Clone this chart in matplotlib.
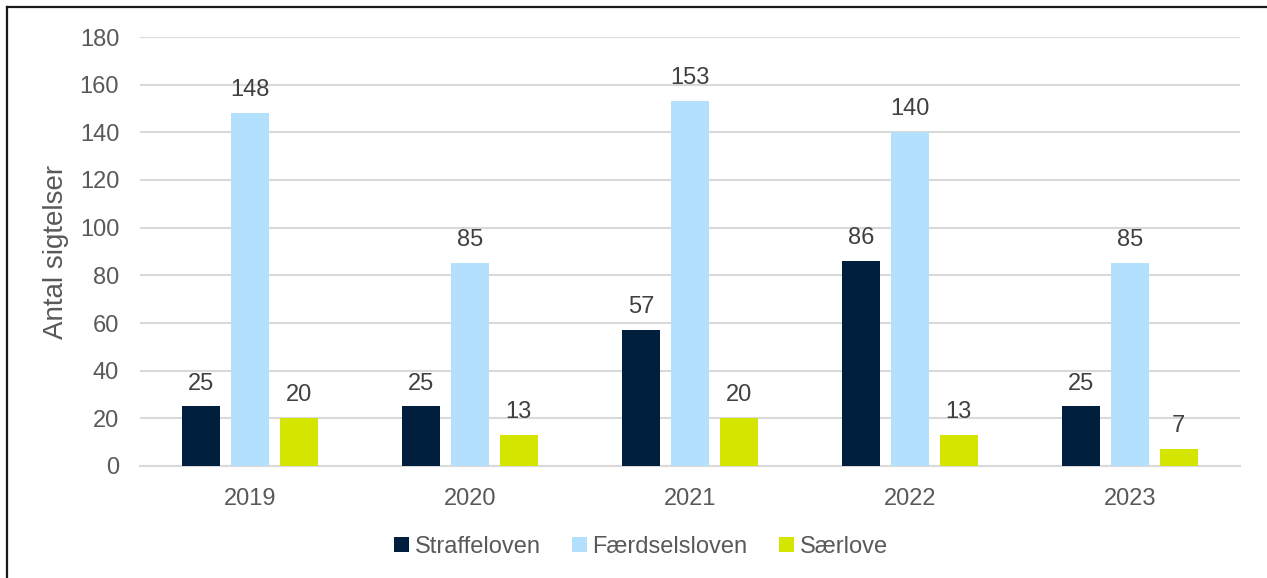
import matplotlib.pyplot as plt
from matplotlib.lines import Line2D
import numpy as np

plt.rcParams['font.family'] = ['Liberation Sans', 'DejaVu Sans']

years = ["2019", "2020", "2021", "2022", "2023"]
series_names = ["Straffeloven", "Færdselsloven", "Særlove"]
straffeloven = [25, 25, 57, 86, 25]
faerdselsloven = [148, 85, 153, 140, 85]
saerlove = [20, 13, 20, 13, 7]
colors = ["#001F3F", "#B3E0FC", "#D4E600"]

TEXT = "#595959"
GRID = "#D9D9D9"

fig = plt.figure(figsize=(12.67, 5.78), dpi=100)
ax = fig.add_axes([140 / 1267, 1 - 466 / 578, 1100 / 1267, 429 / 578])

x = np.arange(len(years))
width = 0.173
step = 0.222
for i, (name, vals) in enumerate(zip(series_names, [straffeloven, faerdselsloven, saerlove])):
    bars = ax.bar(x + (i - 1) * step, vals, width, color=colors[i], label=name, zorder=3)
    for b, v in zip(bars, vals):
        ax.text(b.get_x() + b.get_width() / 2, v + 5, str(v), ha='center', va='bottom',
                fontsize=17, color="#404040")

ax.set_xlim(-0.5, 4.5)
ax.set_ylim(0, 180)
ax.set_yticks(range(0, 181, 20))
ax.set_xticks(x)
ax.set_xticklabels(years)
ax.grid(axis='y', color=GRID, linewidth=1.5, zorder=0)
ax.tick_params(length=0, labelsize=17, labelcolor=TEXT)
ax.tick_params(axis='x', pad=16)
ax.tick_params(axis='y', pad=15)
for s in ['top', 'right', 'left']:
    ax.spines[s].set_visible(False)
ax.spines['bottom'].set_color(GRID)
ax.spines['bottom'].set_linewidth(1.5)
ax.set_ylabel("Antal sigtelser", fontsize=20, color=TEXT, labelpad=8)

leg = fig.legend(loc='center', bbox_to_anchor=(641 / 1267, 1 - 547 / 578), ncol=3,
                 frameon=False, fontsize=17, handlelength=0.6, handleheight=0.6,
                 handletextpad=0.25, columnspacing=1.35)
for t in leg.get_texts():
    t.set_color(TEXT)

# outer frame (left and top edges visible)
fig.add_artist(Line2D([7 / 1267, 7 / 1267], [0, 1 - 7 / 578], transform=fig.transFigure,
                      color="#1a1a1a", linewidth=1.6))
fig.add_artist(Line2D([7 / 1267, 1], [1 - 7 / 578, 1 - 7 / 578], transform=fig.transFigure,
                      color="#1a1a1a", linewidth=1.6))

fig.savefig("out.png", dpi=100)
